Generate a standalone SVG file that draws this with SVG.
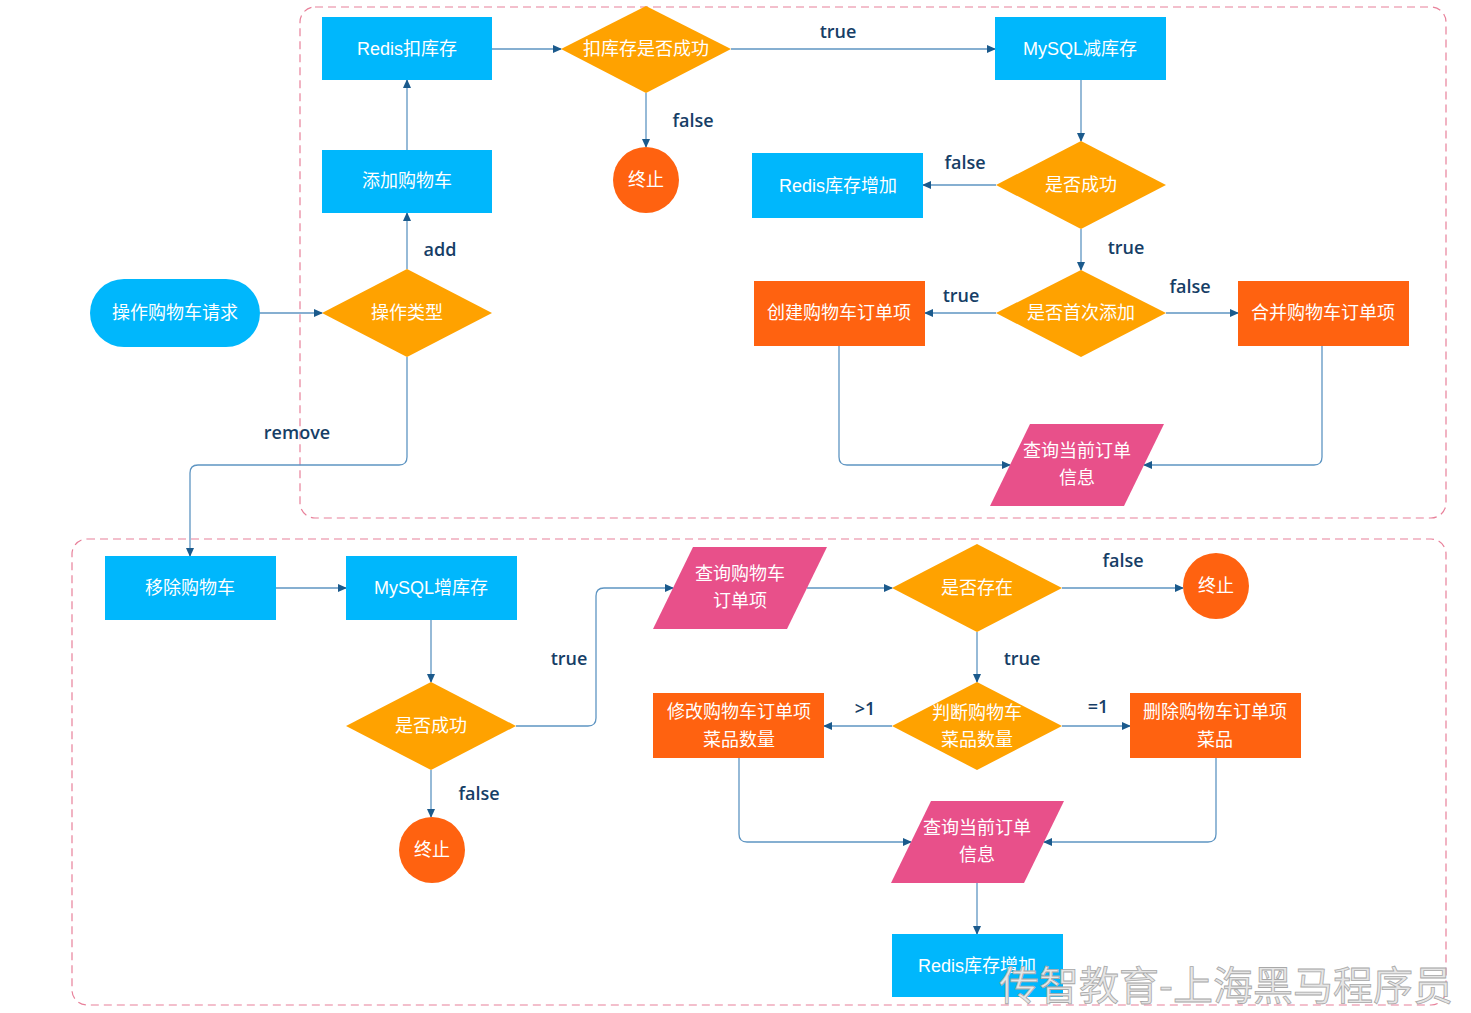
<svg xmlns="http://www.w3.org/2000/svg" width="1471" height="1013" viewBox="0 0 1471 1013">
<defs>
<marker id="ah" markerWidth="10" markerHeight="10" refX="8" refY="5" orient="auto" markerUnits="userSpaceOnUse"><path d="M0,1 L9,5 L0,9 Z" fill="#1b5a8c"/></marker>
<style>
.grp{fill:none;stroke:#e8809a;stroke-width:1.2;stroke-dasharray:8 5}
.b{fill:#00b7fc}.o{fill:#ffa200}.r{fill:#ff6210}.p{fill:#e8508a}
.t{font-family:"Liberation Sans","Noto Sans CJK SC",sans-serif;font-size:18px;fill:#fff;text-anchor:middle;dominant-baseline:central}
.c{fill:none;stroke:#5e95c2;stroke-width:1.3;marker-end:url(#ah)}
.l{font-family:"Open Sans","Noto Sans CJK SC",sans-serif;font-size:18px;fill:#163e66;font-weight:600;text-anchor:middle;dominant-baseline:central}
</style>
</defs>
<rect width="1471" height="1013" fill="#fff"/>
<rect class="grp" x="300" y="7" width="1146" height="511" rx="15"/>
<rect class="grp" x="72" y="539" width="1374" height="466" rx="15"/>
<g id="connectors">
<path class="c" d="M260,313H322"/>
<path class="c" d="M407,269V213"/>
<path class="c" d="M407,150V80"/>
<path class="c" d="M492,49H561"/>
<path class="c" d="M731,49H995"/>
<path class="c" d="M646,93V147"/>
<path class="c" d="M1081,80V141"/>
<path class="c" d="M996,185H923"/>
<path class="c" d="M1081,229V270"/>
<path class="c" d="M996,313H925"/>
<path class="c" d="M1166,313H1238"/>
<path class="c" d="M839,346V457Q839,465 847,465H1010"/>
<path class="c" d="M1322,346V457Q1322,465 1314,465H1144"/>
<path class="c" d="M407,357V457Q407,465 399,465H198Q190,465 190,473V556"/>
<path class="c" d="M276,588H346"/>
<path class="c" d="M431,620V682"/>
<path class="c" d="M516,726H588Q596,726 596,718V596Q596,588 604,588H673"/>
<path class="c" d="M431,770V817"/>
<path class="c" d="M807,588H892"/>
<path class="c" d="M1062,588H1183"/>
<path class="c" d="M977,632V682"/>
<path class="c" d="M892,726H824"/>
<path class="c" d="M1062,726H1130"/>
<path class="c" d="M739,758V834Q739,842 747,842H911"/>
<path class="c" d="M1216,758V834Q1216,842 1208,842H1044"/>
<path class="c" d="M977,883V934"/>
<text class="l" x="440" y="249">add</text>
<text class="l" x="838" y="31">true</text>
<text class="l" x="693" y="120">false</text>
<text class="l" x="965" y="162">false</text>
<text class="l" x="1126" y="247">true</text>
<text class="l" x="961" y="295">true</text>
<text class="l" x="1190" y="286">false</text>
<text class="l" x="297" y="432">remove</text>
<text class="l" x="569" y="658">true</text>
<text class="l" x="479" y="793">false</text>
<text class="l" x="1123" y="560">false</text>
<text class="l" x="1022" y="658">true</text>
<text class="l" x="865" y="708">&gt;1</text>
<text class="l" x="1098" y="706">=1</text>
</g>
<g id="n1"><rect class="b" x="90" y="279" width="170" height="68" rx="34"/><text class="t" x="175" y="313">操作购物车请求</text></g>
<g id="n2"><polygon class="o" points="322,313 407,269 492,313 407,357"/><text class="t" x="407" y="313">操作类型</text></g>
<g id="n3"><rect class="b" x="322" y="150" width="170" height="63"/><text class="t" x="407" y="181">添加购物车</text></g>
<g id="n4"><rect class="b" x="322" y="17" width="170" height="63"/><text class="t" x="407" y="49">Redis扣库存</text></g>
<g id="n5"><polygon class="o" points="561,49 646,6 731,49 646,93"/><text class="t" x="646" y="49">扣库存是否成功</text></g>
<g id="n6"><circle class="r" cx="646" cy="180" r="33"/><text class="t" x="646" y="180">终止</text></g>
<g id="n7"><rect class="b" x="995" y="17" width="171" height="63"/><text class="t" x="1080" y="49">MySQL减库存</text></g>
<g id="n8"><polygon class="o" points="996,185 1081,141 1166,185 1081,229"/><text class="t" x="1081" y="185">是否成功</text></g>
<g id="n9"><rect class="b" x="752" y="153" width="171" height="65"/><text class="t" x="838" y="186">Redis库存增加</text></g>
<g id="n10"><polygon class="o" points="996,313 1081,270 1166,313 1081,357"/><text class="t" x="1081" y="313">是否首次添加</text></g>
<g id="n11"><rect class="r" x="754" y="281" width="171" height="65"/><text class="t" x="839" y="313">创建购物车订单项</text></g>
<g id="n12"><rect class="r" x="1238" y="281" width="171" height="65"/><text class="t" x="1323" y="313">合并购物车订单项</text></g>
<g id="n13"><polygon class="p" points="1030,424 1164,424 1124,506 990,506"/><text class="t" x="1077" y="451">查询当前订单</text><text class="t" x="1077" y="478">信息</text></g>
<g id="n14"><rect class="b" x="105" y="556" width="171" height="64"/><text class="t" x="190" y="588">移除购物车</text></g>
<g id="n15"><rect class="b" x="346" y="556" width="171" height="64"/><text class="t" x="431" y="588">MySQL增库存</text></g>
<g id="n16"><polygon class="p" points="693,547 827,547 787,629 653,629"/><text class="t" x="740" y="574">查询购物车</text><text class="t" x="740" y="601">订单项</text></g>
<g id="n17"><polygon class="o" points="892,588 977,544 1062,588 977,632"/><text class="t" x="977" y="588">是否存在</text></g>
<g id="n18"><circle class="r" cx="1216" cy="586" r="33"/><text class="t" x="1216" y="586">终止</text></g>
<g id="n19"><polygon class="o" points="346,726 431,682 516,726 431,770"/><text class="t" x="431" y="726">是否成功</text></g>
<g id="n20"><circle class="r" cx="432" cy="850" r="33"/><text class="t" x="432" y="850">终止</text></g>
<g id="n21"><polygon class="o" points="892,726 977,682 1062,726 977,770"/><text class="t" x="977" y="713">判断购物车</text><text class="t" x="977" y="740">菜品数量</text></g>
<g id="n22"><rect class="r" x="653" y="693" width="171" height="65"/><text class="t" x="739" y="712">修改购物车订单项</text><text class="t" x="739" y="740">菜品数量</text></g>
<g id="n23"><rect class="r" x="1130" y="693" width="171" height="65"/><text class="t" x="1215" y="712">删除购物车订单项</text><text class="t" x="1215" y="740">菜品</text></g>
<g id="n24"><polygon class="p" points="931,801 1064,801 1024,883 891,883"/><text class="t" x="977" y="828">查询当前订单</text><text class="t" x="977" y="855">信息</text></g>
<g id="n25"><rect class="b" x="892" y="934" width="171" height="63"/><text class="t" x="977" y="966">Redis库存增加</text></g>
<text x="1226" y="1000" text-anchor="middle" font-family="Noto Sans CJK SC,sans-serif" font-size="40" fill="#e6e6e6" stroke="#a8a8a8" stroke-width="0.8">传智教育-上海黑马程序员</text>
</svg>
